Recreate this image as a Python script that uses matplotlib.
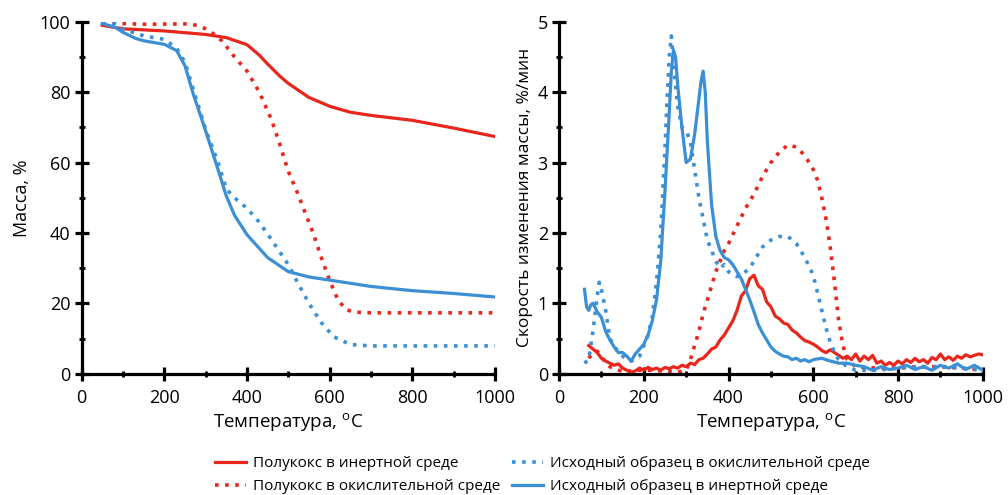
import matplotlib
matplotlib.use("Agg")
import matplotlib.pyplot as plt
from matplotlib.ticker import MultipleLocator
from matplotlib.lines import Line2D

plt.rcParams['font.family'] = ['Open Sans', 'DejaVu Sans']
plt.rcParams['mathtext.default'] = 'regular'

RED = '#e8261c'
BLUE = '#3b8fd4'

# --- ТГ: масса, %
tg_red_solid_t = [50, 100, 200, 300, 350, 400, 430, 450, 480, 500, 550, 600, 650, 700, 800, 900, 1000]
tg_red_solid_m = [99.0, 98.0, 97.4, 96.4, 95.5, 93.5, 90.5, 88.0, 84.5, 82.5, 78.5, 76.0, 74.3, 73.4, 72.0, 69.8, 67.4]

tg_red_dot_t = [50, 100, 150, 250, 280, 300, 320, 340, 370, 400, 430, 460, 480, 500, 520, 540, 560, 580, 600, 620, 640, 660, 700, 800, 1000]
tg_red_dot_m = [100.0, 99.5, 99.3, 99.4, 99.0, 98.0, 96.5, 94.5, 90.0, 86.0, 80.0, 72.0, 65.0, 57.5, 52.0, 46.0, 40.0, 33.0, 26.5, 21.0, 18.2, 17.5, 17.3, 17.3, 17.3]

tg_blue_solid_t = [50, 80, 100, 130, 150, 200, 230, 250, 270, 300, 330, 350, 370, 400, 450, 500, 550, 600, 700, 800, 900, 1000]
tg_blue_solid_m = [99.5, 98.5, 97.0, 95.3, 94.6, 93.6, 91.8, 87.5, 79.5, 69.0, 58.0, 50.5, 45.0, 39.5, 33.0, 29.0, 27.5, 26.6, 24.8, 23.6, 22.8, 21.8]

tg_blue_dot_t = [50, 80, 100, 150, 200, 230, 250, 280, 300, 330, 350, 370, 400, 430, 460, 500, 520, 550, 580, 610, 650, 700, 800, 1000]
tg_blue_dot_m = [100.0, 99.5, 98.0, 96.0, 95.0, 92.5, 88.5, 77.0, 69.5, 60.0, 52.5, 50.0, 47.0, 43.0, 38.0, 31.0, 26.5, 20.0, 14.5, 10.5, 8.3, 7.9, 7.9, 7.9]

# --- ДТГ: скорость изменения массы, %/мин
dtg_red_solid_t = list(range(70, 1001, 10))
dtg_red_solid_v = [0.40, 0.35, 0.30, 0.22, 0.18, 0.15, 0.12, 0.14, 0.08, 0.05,
                   0.02, 0.04, 0.08, 0.05, 0.09, 0.06, 0.08, 0.05, 0.09, 0.07,
                   0.10, 0.08, 0.12, 0.10, 0.15, 0.13, 0.20, 0.22, 0.28, 0.35,
                   0.38, 0.48, 0.55, 0.65, 0.75, 0.90, 1.10, 1.18, 1.35, 1.40,
                   1.25, 1.20, 1.02, 0.95, 0.82, 0.78, 0.72, 0.70, 0.62, 0.58,
                   0.52, 0.47, 0.45, 0.42, 0.38, 0.33, 0.30, 0.34, 0.30, 0.26,
                   0.22, 0.25, 0.20, 0.28, 0.18, 0.25, 0.20, 0.26, 0.15, 0.18,
                   0.12, 0.16, 0.12, 0.18, 0.14, 0.20, 0.16, 0.22, 0.17, 0.20,
                   0.15, 0.23, 0.20, 0.28, 0.20, 0.24, 0.19, 0.25, 0.22, 0.27,
                   0.24, 0.26, 0.28, 0.27]

dtg_blue_solid_t = [60, 65, 70, 75, 80, 90, 100, 110, 120, 130, 140, 150, 160, 170, 180, 190, 200, 210, 220, 230,
                    240, 250, 260, 265, 270, 275, 280, 290, 300, 310, 320, 330, 335, 340, 345, 350, 360, 370, 380, 390,
                    400, 410, 420, 430, 440, 450, 460, 470, 480, 490, 500, 510, 520, 530, 540, 550, 560, 570, 580, 590,
                    600, 620, 640, 660, 680, 700, 720, 740, 760, 780, 800, 820, 840, 860, 880, 900, 920, 940, 960, 980, 1000]
dtg_blue_solid_v = [1.20, 0.95, 0.90, 0.98, 1.00, 0.88, 0.80, 0.60, 0.48, 0.38, 0.30, 0.30, 0.25, 0.18, 0.28, 0.35, 0.42, 0.55, 0.75, 1.05,
                    1.60, 2.60, 3.70, 4.30, 4.60, 4.50, 4.10, 3.50, 3.00, 3.05, 3.40, 3.90, 4.15, 4.30, 4.00, 3.30, 2.40, 1.95, 1.75, 1.65,
                    1.62, 1.55, 1.45, 1.35, 1.20, 1.05, 0.88, 0.70, 0.58, 0.48, 0.38, 0.32, 0.28, 0.25, 0.24, 0.20, 0.22, 0.18, 0.20, 0.17,
                    0.20, 0.22, 0.18, 0.15, 0.15, 0.12, 0.10, 0.05, 0.10, 0.06, 0.08, 0.12, 0.06, 0.10, 0.05, 0.12, 0.08, 0.14, 0.06, 0.12, 0.05]

dtg_blue_dot_t = [60, 70, 80, 90, 95, 100, 110, 120, 130, 140, 150, 160, 170, 180, 190, 200, 210, 220, 230, 240,
                  250, 255, 260, 265, 270, 280, 290, 300, 310, 320, 330, 340, 350, 360, 370, 380, 390, 400, 410, 420,
                  430, 440, 450, 460, 470, 480, 500, 520, 540, 560, 580, 600, 610, 620, 630, 640, 650, 660, 680, 700,
                  750, 800, 850, 900, 950, 1000]
dtg_blue_dot_v = [0.15, 0.20, 0.60, 1.10, 1.30, 1.20, 0.90, 0.50, 0.40, 0.30, 0.25, 0.20, 0.18, 0.20, 0.25, 0.40, 0.55, 0.80, 1.30, 2.00,
                  3.20, 3.90, 4.50, 4.80, 4.40, 3.80, 3.50, 3.45, 3.30, 2.90, 2.50, 2.20, 1.90, 1.75, 1.60, 1.50, 1.55, 1.45, 1.40, 1.38,
                  1.40, 1.45, 1.50, 1.60, 1.70, 1.80, 1.90, 1.95, 1.95, 1.85, 1.65, 1.40, 1.15, 0.90, 0.65, 0.45, 0.30, 0.20, 0.10, 0.05,
                  0.05, 0.08, 0.10, 0.10, 0.08, 0.05]

dtg_red_dot_t = [70, 80, 90, 100, 110, 120, 140, 160, 180, 200, 220, 240, 260, 280, 300, 310, 320, 330, 340, 350,
                 360, 370, 380, 390, 400, 420, 440, 460, 480, 500, 520, 540, 560, 580, 600, 610, 620, 630, 640, 650,
                 660, 670, 680, 700, 750, 800, 850, 900, 950, 1000]
dtg_red_dot_v = [0.22, 0.30, 0.32, 0.25, 0.15, 0.10, 0.05, 0.03, 0.05, 0.05, 0.05, 0.04, 0.03, 0.02, 0.05, 0.20, 0.40, 0.60, 0.85, 1.05,
                 1.25, 1.45, 1.60, 1.75, 1.85, 2.10, 2.35, 2.55, 2.80, 3.00, 3.15, 3.25, 3.22, 3.10, 2.90, 2.75, 2.50, 2.20, 1.80, 1.30,
                 0.75, 0.40, 0.20, 0.10, 0.08, 0.08, 0.10, 0.10, 0.08, 0.05]

labels = ['Полукокс в инертной среде', 'Полукокс в окислительной среде',
          'Исходный образец в окислительной среде', 'Исходный образец в инертной среде']

DOT = (0, (1.0, 1.8))
LW = 2.3

fig = plt.figure(figsize=(10.08, 4.95), dpi=100)
ax1 = fig.add_axes([0.081, 0.245, 0.41, 0.711])
ax2 = fig.add_axes([0.5546, 0.245, 0.4204, 0.711])

ax1.plot(tg_red_solid_t, tg_red_solid_m, color=RED, lw=LW)
ax1.plot(tg_red_dot_t, tg_red_dot_m, color=RED, lw=LW + 0.3, ls=DOT)
ax1.plot(tg_blue_dot_t, tg_blue_dot_m, color=BLUE, lw=LW + 0.3, ls=DOT)
ax1.plot(tg_blue_solid_t, tg_blue_solid_m, color=BLUE, lw=LW)

ax2.plot(dtg_red_solid_t, dtg_red_solid_v, color=RED, lw=LW)
ax2.plot(dtg_red_dot_t, dtg_red_dot_v, color=RED, lw=LW + 0.3, ls=DOT)
ax2.plot(dtg_blue_dot_t, dtg_blue_dot_v, color=BLUE, lw=LW + 0.3, ls=DOT)
ax2.plot(dtg_blue_solid_t, dtg_blue_solid_v, color=BLUE, lw=LW)

ax1.set_ylim(0, 100)
ax1.yaxis.set_major_locator(MultipleLocator(20))
ax1.yaxis.set_minor_locator(MultipleLocator(10))
ax1.set_ylabel('Масса, %', fontsize=13, labelpad=6)
ax2.set_ylim(0, 5)
ax2.yaxis.set_major_locator(MultipleLocator(1))
ax2.yaxis.set_minor_locator(MultipleLocator(0.5))
ax2.set_ylabel('Скорость изменения массы, %/мин', fontsize=12.5, labelpad=3)

for ax in (ax1, ax2):
    ax.set_xlim(0, 1000)
    ax.xaxis.set_major_locator(MultipleLocator(200))
    ax.xaxis.set_minor_locator(MultipleLocator(100))
    ax.set_xlabel('Температура, $^{o}$C', fontsize=13.5, labelpad=3)
    for s in ('top', 'right'):
        ax.spines[s].set_visible(False)
    for s in ('left', 'bottom'):
        ax.spines[s].set_linewidth(2.3)
    ax.tick_params(which='major', direction='inout', length=10, width=2.3, labelsize=13, pad=3)
    ax.tick_params(axis='x', which='major', pad=6)
    ax.tick_params(which='minor', direction='inout', length=4, width=2.0)

handles = [Line2D([], [], color=RED, lw=LW), Line2D([], [], color=RED, lw=LW + 0.3, ls=DOT),
           Line2D([], [], color=BLUE, lw=LW + 0.3, ls=DOT), Line2D([], [], color=BLUE, lw=LW)]
fig.legend(handles, labels, ncol=2, loc='center', bbox_to_anchor=(0.538, 0.04), frameon=False,
           fontsize=11, handlelength=2.0, columnspacing=0.8, labelspacing=0.5, handletextpad=0.45,
           borderpad=0.2)

fig.savefig('out.png', dpi=100)
